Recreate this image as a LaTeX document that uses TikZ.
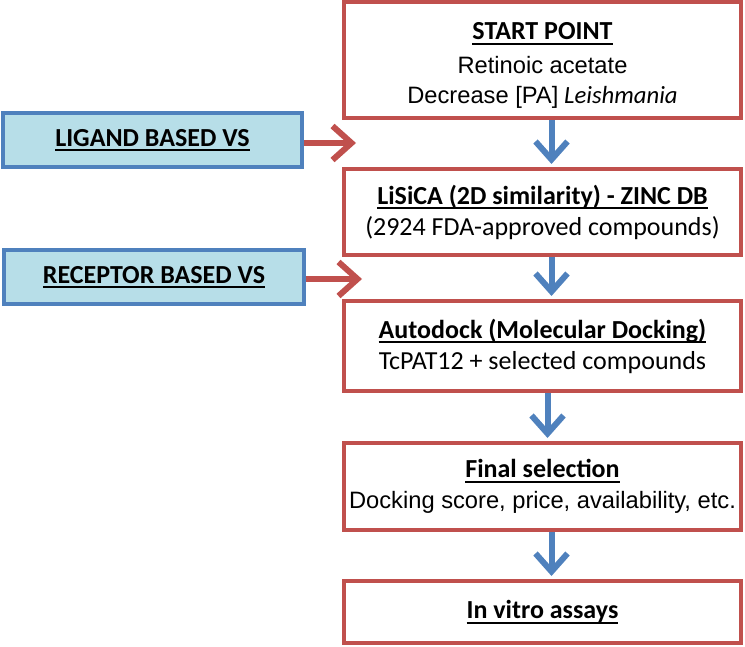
\documentclass[tikz,border=0pt]{standalone}
\usepackage{fontspec}
\setmainfont{Carlito}
\newfontfamily\arialfont{Liberation Sans}
\usetikzlibrary{arrows.meta}

\definecolor{boxred}{HTML}{C0504D}
\definecolor{boxblue}{HTML}{4F81BD}
\definecolor{vsfill}{HTML}{B7DEE8}

% underlined bold heading
\newcommand\hd[1]{{\bfseries\setbox0=\hbox{#1}\rlap{\rule[-5pt]{\wd0}{2pt}}\box0}}
\newcommand\ar[1]{{\arialfont\fontsize{23.7}{28}\selectfont #1}}

\tikzset{
	stepbox/.style={draw=boxred, line width=4pt, fill=white, minimum width=397pt, align=center, inner sep=0pt, font=\fontsize{26}{31}\selectfont},
	vsbox/.style={draw=boxblue, line width=3.5pt, fill=vsfill, minimum width=299pt, minimum height=54pt, inner sep=0pt, font=\fontsize{26}{31}\selectfont},
	flow/.style={draw=boxblue, line width=6pt, -{Straight Barb[length=18pt, width=32pt]}, shorten >=3pt},
	feed/.style={draw=boxred, line width=6pt, -{Straight Barb[length=19pt, width=34pt]}}
}

\begin{document}
\begin{tikzpicture}[x=1pt, y=-1pt]
	\useasboundingbox (0,0) rectangle (745,647);
	
	% main steps
	\node [stepbox, minimum height=116pt] (start) at (542.5,60) {\rule{0pt}{28pt}\hd{START POINT}\\[3pt] \ar{Retinoic acetate}\\[-1pt] \ar{Decrease [PA]} {\fontsize{24.7}{30}\selectfont\textit{Leishmania}}};
	\node [stepbox, minimum height=86pt] (lisica) at (542.5,212) {\hd{LiSiCA (2D similarity) - ZINC DB}\\ (2924 FDA-approved compounds)};
	\node [stepbox, minimum height=90pt] (autodock) at (542.5,346) {\hd{Autodock (Molecular Docking)}\\ TcPAT12 + selected compounds};
	\node [stepbox, minimum height=87pt] (final) at (542.5,486.5) {\hd{Final selection}\\ \ar{Docking score, price, availability, etc.}};
	\node [stepbox, minimum height=62pt] (vitro) at (542.5,612) {\hd{In vitro assays}};
	
	% virtual screening
	\node [vsbox] (ligand) at (152.5,140) {\hd{LIGAND BASED VS}};
	\node [vsbox, minimum width=300pt] (receptor) at (154,277) {\hd{RECEPTOR BASED VS}};
	
	% flow arrows
	\draw [flow] ([xshift=9pt]start.south) -- ([xshift=9pt]lisica.north);
	\draw [flow] ([xshift=9pt]lisica.south) -- ([xshift=9pt]autodock.north);
	\draw [flow] ([xshift=5pt]autodock.south) -- ([xshift=5pt]final.north);
	\draw [flow] ([xshift=9pt]final.south) -- ([xshift=9pt]vitro.north);
	
	% feeding arrows
	\coordinate (ligend) at (356,143);
	\coordinate (recend) at (362,279);
	\draw [feed] (ligand.east |- ligend) -- (ligend);
	\draw [feed] (receptor.east |- recend) -- (recend);
	
\end{tikzpicture}
\end{document}
